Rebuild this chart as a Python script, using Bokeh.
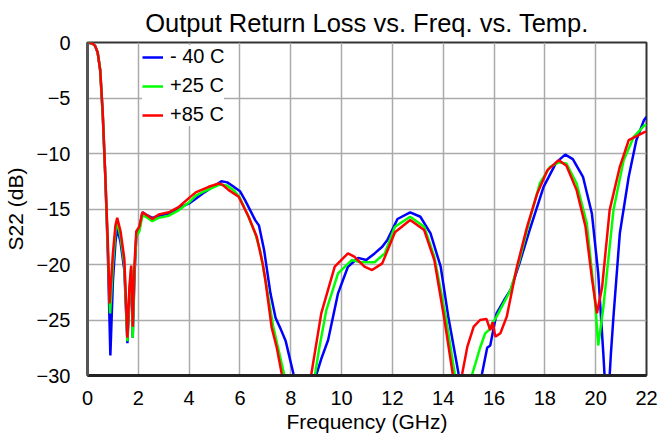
from bokeh.plotting import figure
from bokeh.models import Range1d, FixedTicker, Legend, LegendItem
from bokeh.embed import file_html
from bokeh.resources import INLINE

# ---- data ----
freq_m40 = [0, 0.2, 0.3, 0.4, 0.5, 0.6, 0.7, 0.8, 0.9, 1.0, 1.1, 1.17, 1.3, 1.45, 1.57, 1.65, 1.72, 1.78, 1.85,
            1.92, 2.04, 2.16, 2.3, 2.55, 2.8, 3.2, 3.6, 4.0, 4.3, 4.6, 5.0, 5.27, 5.5, 5.7, 6.0, 6.2, 6.4, 6.6,
            6.75, 6.95, 7.2, 7.4, 7.6, 7.8, 8.1, 8.5, 9.0, 9.2, 9.47, 9.86, 10.25, 10.65, 10.97, 11.3, 11.6,
            11.8, 12.2, 12.7, 13.1, 13.5, 13.9, 14.2, 14.6, 15.0, 15.53, 15.73, 15.85, 16.1, 16.4, 16.65, 17.0,
            17.4, 17.95, 18.45, 18.8, 19.1, 19.5, 19.85, 20.1, 20.3, 20.45, 20.6, 20.7, 20.95, 21.3, 21.6,
            21.9, 22.0]
s22_m40 = [0, -0.1, -0.3, -0.9, -2.5, -6.5, -12.0, -19.0, -28.2, -21.5, -18.0, -16.7, -18.0, -20.5, -27.1,
           -23.0, -20.5, -26.6, -21.0, -17.5, -16.8, -15.3, -15.5, -15.8, -15.6, -15.4, -14.9, -14.5, -14.0,
           -13.5, -12.9, -12.5, -12.6, -12.9, -13.4, -14.2, -15.1, -16.0, -16.5, -18.7, -22.6, -24.8, -25.8,
           -26.9, -29.8, -33.0, -30.0, -28.5, -26.8, -22.6, -20.2, -19.4, -19.6, -19.0, -18.4, -17.8, -15.9,
           -15.3, -15.7, -17.2, -20.2, -24.7, -29.8, -34.0, -29.8, -27.5, -27.3, -24.4, -23.2, -22.3, -19.9,
           -16.9, -13.0, -10.8, -10.1, -10.5, -12.1, -15.4, -20.8, -28.0, -34.0, -28.0, -24.7, -17.2, -12.1,
           -8.8, -7.0, -6.7]

freq_p25 = [0, 0.2, 0.3, 0.4, 0.5, 0.6, 0.7, 0.8, 0.89, 1.0, 1.1, 1.17, 1.3, 1.45, 1.57, 1.65, 1.72, 1.78,
            1.85, 1.92, 2.04, 2.16, 2.3, 2.55, 2.8, 3.2, 3.6, 4.0, 4.26, 4.6, 5.0, 5.2, 5.5, 5.75, 6.0, 6.3,
            6.6, 6.8, 7.05, 7.3, 7.5, 7.75, 8.2, 8.95, 9.1, 9.4, 9.86, 10.4, 10.77, 11.3, 11.7, 12.1, 12.7,
            13.25, 13.65, 14.1, 14.45, 14.8, 15.15, 15.27, 15.45, 15.65, 15.8, 15.93, 16.1, 16.65, 17.0, 17.4,
            17.8, 18.2, 18.55, 18.85, 19.25, 19.65, 19.97, 20.1, 20.3, 20.7, 21.1, 21.5, 21.9, 22.0]
s22_p25 = [0, -0.1, -0.3, -0.9, -2.5, -6.5, -12.0, -18.5, -24.4, -20.0, -17.0, -16.2, -17.5, -20.0, -26.9,
           -22.5, -20.3, -26.6, -20.5, -17.5, -17.0, -15.6, -15.7, -16.1, -15.8, -15.6, -15.1, -14.4, -13.8,
           -13.4, -13.0, -12.8, -12.9, -13.3, -14.0, -15.5, -17.2, -18.8, -22.0, -25.5, -27.5, -30.0, -33.0,
           -30.0, -27.8, -24.1, -20.8, -19.6, -19.8, -19.8, -19.0, -16.6, -15.7, -16.6, -19.3, -24.7, -29.8,
           -33.0, -29.8, -28.9, -27.5, -26.2, -25.9, -25.3, -24.7, -22.3, -19.6, -16.0, -12.7, -11.2, -10.8,
           -10.9, -12.7, -16.3, -23.2, -27.3, -23.9, -15.1, -10.6, -8.5, -7.5, -7.4]

freq_p85 = [0, 0.2, 0.3, 0.4, 0.5, 0.6, 0.7, 0.8, 0.87, 1.0, 1.1, 1.17, 1.3, 1.45, 1.57, 1.65, 1.72, 1.78,
            1.85, 1.92, 2.04, 2.16, 2.3, 2.55, 2.8, 3.2, 3.6, 4.0, 4.26, 4.77, 5.17, 5.3, 5.56, 5.95, 6.34,
            6.66, 6.9, 7.0, 7.25, 7.45, 7.64, 8.0, 8.8, 9.2, 9.73, 10.25, 10.5, 10.9, 11.2, 11.6, 12.1, 12.7,
            13.25, 13.65, 14.05, 14.37, 14.55, 14.75, 14.95, 15.2, 15.45, 15.7, 15.85, 15.95, 16.05, 16.25,
            16.5, 16.9, 17.3, 17.7, 18.1, 18.55, 18.85, 19.25, 19.6, 19.85, 20.05, 20.25, 20.55, 20.95, 21.3,
            21.9, 22.0]
s22_p85 = [0, -0.1, -0.3, -0.9, -2.5, -6.3, -12.0, -18.0, -23.5, -19.0, -16.5, -15.8, -17.0, -19.5, -26.6,
           -22.0, -20.1, -25.6, -20.0, -17.0, -16.6, -15.3, -15.5, -15.9, -15.5, -15.3, -14.8, -14.0, -13.5,
           -13.0, -12.7, -12.8, -13.3, -13.9, -15.7, -17.5, -20.0, -21.4, -25.7, -27.5, -29.8, -33.0, -30.0,
           -24.4, -20.2, -19.0, -19.3, -20.2, -20.5, -19.9, -17.1, -16.0, -16.9, -19.6, -25.0, -29.8, -32.0,
           -29.8, -27.4, -25.6, -25.0, -24.9, -25.9, -25.2, -26.5, -26.2, -24.7, -20.2, -16.6, -13.6, -11.5,
           -10.6, -11.1, -13.3, -16.6, -21.2, -24.4, -22.1, -15.1, -11.2, -8.8, -8.1, -8.0]

series_labels = ["- 40 C", "+25 C", "+85 C"]
series_colors = ["#0000FF", "#00FF00", "#FF0000"]
x_ticks = [0, 2, 4, 6, 8, 10, 12, 14, 16, 18, 20, 22]
y_ticks = [0, -5, -10, -15, -20, -25, -30]

FONT = "Liberation Sans"

p = figure(frame_width=559, frame_height=333, output_backend="svg", toolbar_location=None,
           x_range=Range1d(0, 22), y_range=Range1d(-30, 0),
           title="Output Return Loss vs. Freq. vs. Temp.",
           min_border_left=80, min_border_right=12, min_border_top=34, min_border_bottom=50)

p.title.text_font = FONT
p.title.text_font_size = "25.5px"
p.title.text_font_style = "normal"
p.title.align = "center"
p.title.standoff = 12
p.title.text_color = "black"

p.outline_line_color = "#333333"
p.outline_line_width = 2
p.background_fill_color = "white"
p.border_fill_color = "white"

for ax in (p.xaxis[0], p.yaxis[0]):
    ax.major_label_text_font = FONT
    ax.major_label_text_font_size = "20px"
    ax.major_label_text_color = "black"
    ax.axis_label_text_font = FONT
    ax.axis_label_text_font_size = "21px"
    ax.axis_label_text_font_style = "normal"
    ax.axis_label_text_color = "black"
    ax.major_tick_line_color = None
    ax.minor_tick_line_color = None
    ax.major_tick_out = 0
    ax.major_tick_in = 0

p.xaxis.ticker = FixedTicker(ticks=x_ticks)
p.yaxis.ticker = FixedTicker(ticks=y_ticks)
p.xaxis.axis_label = "Frequency (GHz)"
p.yaxis.axis_label = "S22 (dB)"
p.xaxis.major_label_standoff = 15
p.xaxis.axis_label_standoff = 2
p.yaxis.major_label_standoff = 17
p.yaxis.axis_label_standoff = 7
p.xaxis.axis_line_color = "#222222"
p.xaxis.axis_line_width = 3
p.yaxis.axis_line_color = "#555555"
p.yaxis.axis_line_width = 3

p.xgrid.ticker = FixedTicker(ticks=x_ticks)
p.ygrid.ticker = FixedTicker(ticks=y_ticks)
p.grid.grid_line_color = "#aaaaaa"
p.grid.grid_line_width = 1.5

items = []
for fx, fy, lab, col in zip([freq_m40, freq_p25, freq_p85], [s22_m40, s22_p25, s22_p85],
                            series_labels, series_colors):
    r = p.line(fx, fy, line_color=col, line_width=2.5)
    items.append(LegendItem(label=lab, renderers=[r]))

legend = Legend(items=items, location=(55, 249))
legend.label_text_font = FONT
legend.label_text_font_size = "20px"
legend.label_text_color = "black"
legend.glyph_width = 21
legend.glyph_height = 22
legend.label_height = 22
legend.spacing = 6
legend.padding = 6
legend.margin = 0
legend.label_standoff = 7
legend.border_line_color = None
legend.background_fill_color = "white"
legend.background_fill_alpha = 1.0
p.add_layout(legend, "center")

open("out.html", "w").write(file_html(p, INLINE))
